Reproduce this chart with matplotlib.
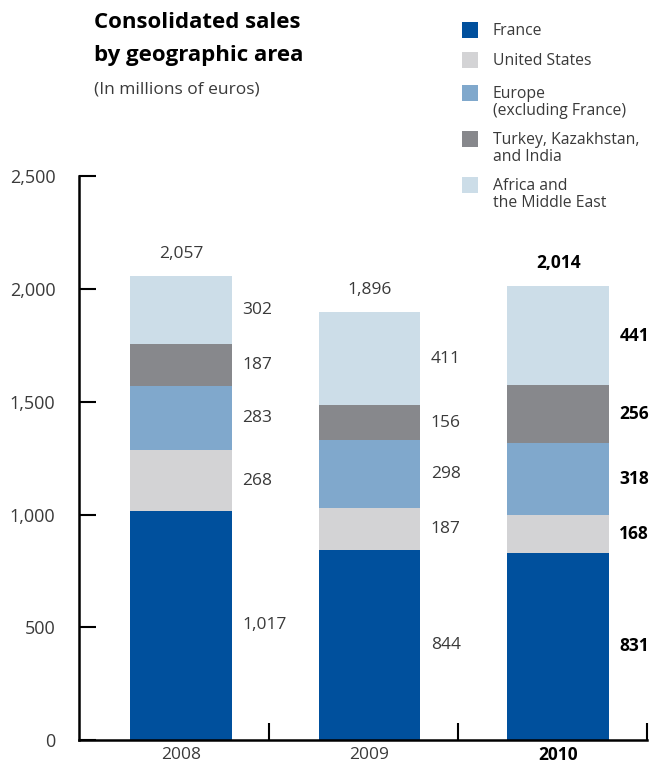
import numpy as np
import matplotlib.pyplot as plt
from matplotlib.patches import Rectangle

# Data (millions of euros)
years = ['2008', '2009', '2010']
regions = ['France', 'United States', 'Europe\n(excluding France)',
           'Turkey, Kazakhstan,\nand India', 'Africa and\nthe Middle East']
france = [1017, 844, 831]
united_states = [268, 187, 168]
europe = [283, 298, 318]
turkey = [187, 156, 256]
africa = [302, 411, 441]
totals = [2057, 1896, 2014]
yticks = [0, 500, 1000, 1500, 2000, 2500]

colors = ['#00509D', '#D3D3D5', '#80A8CC', '#87888C', '#CCDDE8']
txt = '#3a3a3a'
plt.rcParams['font.family'] = ['Open Sans', 'DejaVu Sans']

fig = plt.figure(figsize=(6.5, 7.63), dpi=100)
ax = fig.add_axes([0.1215, 0.030, 0.8735, 0.739])

series = [france, united_states, europe, turkey, africa]
x = np.arange(len(years))
bottom = np.zeros(len(years))
for vals, col in zip(series, colors):
    ax.bar(x, vals, width=0.54, bottom=bottom, color=col, linewidth=0)
    for i, v in enumerate(vals):
        bold = (i == len(years) - 1)
        ax.text(x[i] + 0.325, bottom[i] + v / 2, f'{v:,}', ha='left', va='center',
                fontsize=12.5, color='black' if bold else txt,
                fontweight='bold' if bold else 'normal')
    bottom += np.array(vals)

for i, t in enumerate(totals):
    bold = (i == len(years) - 1)
    ax.text(x[i], t + 100, f'{t:,}', ha='center', va='center', fontsize=12.5,
            color='black' if bold else txt, fontweight='bold' if bold else 'normal')

ax.set_xlim(-0.54, 2.47)
ax.set_ylim(0, 2500)
ax.set_yticks(yticks)
ax.set_yticklabels([f'{v:,}' for v in yticks], fontsize=13, color=txt)
ax.set_xticks(x + 0.47)
ax.set_xticklabels([])
ax.tick_params(axis='both', direction='in', length=12, width=1.5, color='black')
ax.tick_params(axis='y', pad=17)
for i, y in enumerate(years):
    bold = (i == len(years) - 1)
    ax.text(x[i], -0.026, y, transform=ax.get_xaxis_transform(), ha='center', va='center',
            fontsize=12.5, color='black' if bold else txt, fontweight='bold' if bold else 'normal')

for s in ['top', 'right']:
    ax.spines[s].set_visible(False)
for s in ['left', 'bottom']:
    ax.spines[s].set_linewidth(1.8)

# Title
fig.text(94 / 650, 1 - 39 / 763, 'Consolidated sales\nby geographic area', ha='left', va='center',
         fontsize=16, fontweight='bold', color='black', linespacing=1.7)
fig.text(94 / 650, 1 - 89 / 763, '(In millions of euros)', ha='left', va='center',
         fontsize=12.5, color=txt)

# Legend
leg_y = [30, 60, 93, 139, 185]
for lab, col, yy in zip(regions, colors, leg_y):
    fig.patches.append(Rectangle((462 / 650, 1 - (yy + 8) / 763), 16 / 650, 16 / 763,
                                 transform=fig.transFigure, color=col, linewidth=0))
    fig.text(493 / 650, 1 - (yy - 7) / 763, lab, ha='left', va='top', fontsize=11.3,
             color=txt, linespacing=1.1)

fig.savefig('out.png', dpi=100)
